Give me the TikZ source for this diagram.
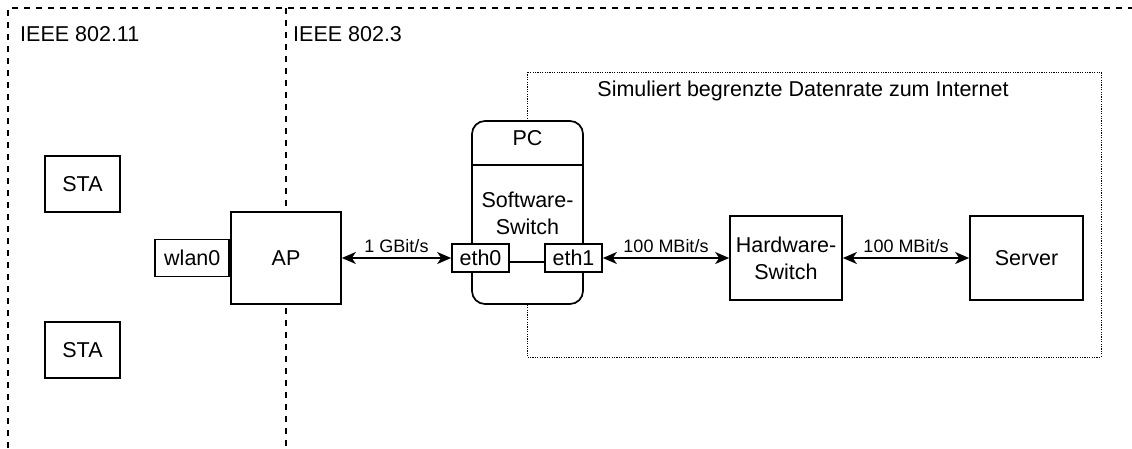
\documentclass[tikz,border=0pt]{standalone}
\usepackage{fontspec}
\setmainfont{Liberation Sans}
\usetikzlibrary{arrows.meta}
\tikzset{
  plain/.style={inner sep=0pt, align=center, font=\fontsize{21.5}{27}\selectfont},
  box/.style={plain, draw, line width=1.7pt, fill=white},
  port/.style={box, minimum width=57pt, minimum height=28pt},
  area/.style={line width=1.4pt, dash pattern=on 6pt off 6pt},
  rate/.style={above, inner sep=4pt, font=\fontsize{18}{20}\selectfont},
  >={Stealth[length=14pt,width=12pt,inset=4pt]}
}

\begin{document}
\begin{tikzpicture}[x=1pt,y=-1pt]
        \useasboundingbox (0,0) rectangle (1132,448);
        \clip (0,0) rectangle (1132,448);
        \draw[area] (8,460) -- (8,8) -- (1150,8);
        \draw[area] (286,8) -- (286,460);
        \node[plain, anchor=west] (1) at (20,34) {IEEE 802.11};
        \node[plain, anchor=west] (2) at (293,34) {IEEE 802.3};
        \draw[line width=1pt, dash pattern=on 1.2pt off 1.2pt] (527,72) rectangle (1101,357);
        \node[plain] (3) at (803,91) {Simuliert begrenzte Datenrate zum Internet};
        \node[box, minimum width=75pt, minimum height=56pt] (4) at (82.5,184) {STA};
        \node[box, minimum width=75pt, minimum height=56pt] (5) at (82.5,350) {STA};
        \node[box, minimum width=110pt, minimum height=92pt] (6) at (286,258) {AP};
        \node[box, minimum width=74pt, minimum height=37pt, anchor=east] (7) at (6.west) {wlan0};
        \node[box, rounded corners=13pt, minimum width=111pt, minimum height=183pt] (8) at (527.5,212.5) {};
        \coordinate (h) at (0,165);
        \draw[line width=1.7pt] (8.west |- h) -- (8.east |- h);
        \node[plain] (9) at (527.5,138) {PC};
        \node[plain] (10) at (527.5,213) {Software-\\Switch};
        \node[port] (11) at (480.5,258) {eth0};
        \node[port] (12) at (573.5,258) {eth1};
        \draw[line width=1.7pt] ([yshift=-4pt]11.east) -- ([yshift=-4pt]12.west);
        \node[box, minimum width=112pt, minimum height=84pt] (13) at (786,258) {Hardware-\\Switch};
        \node[box, minimum width=113pt, minimum height=84pt] (14) at (1026.5,258) {Server};
        \draw[<->, line width=1.7pt] (6) -- node[rate] {1 GBit/s} (11);
        \draw[<->, line width=1.7pt] (12) -- node[rate] {100 MBit/s} (13);
        \draw[<->, line width=1.7pt] (13) -- node[rate] {100 MBit/s} (14);
      \end{tikzpicture}
\end{document}
